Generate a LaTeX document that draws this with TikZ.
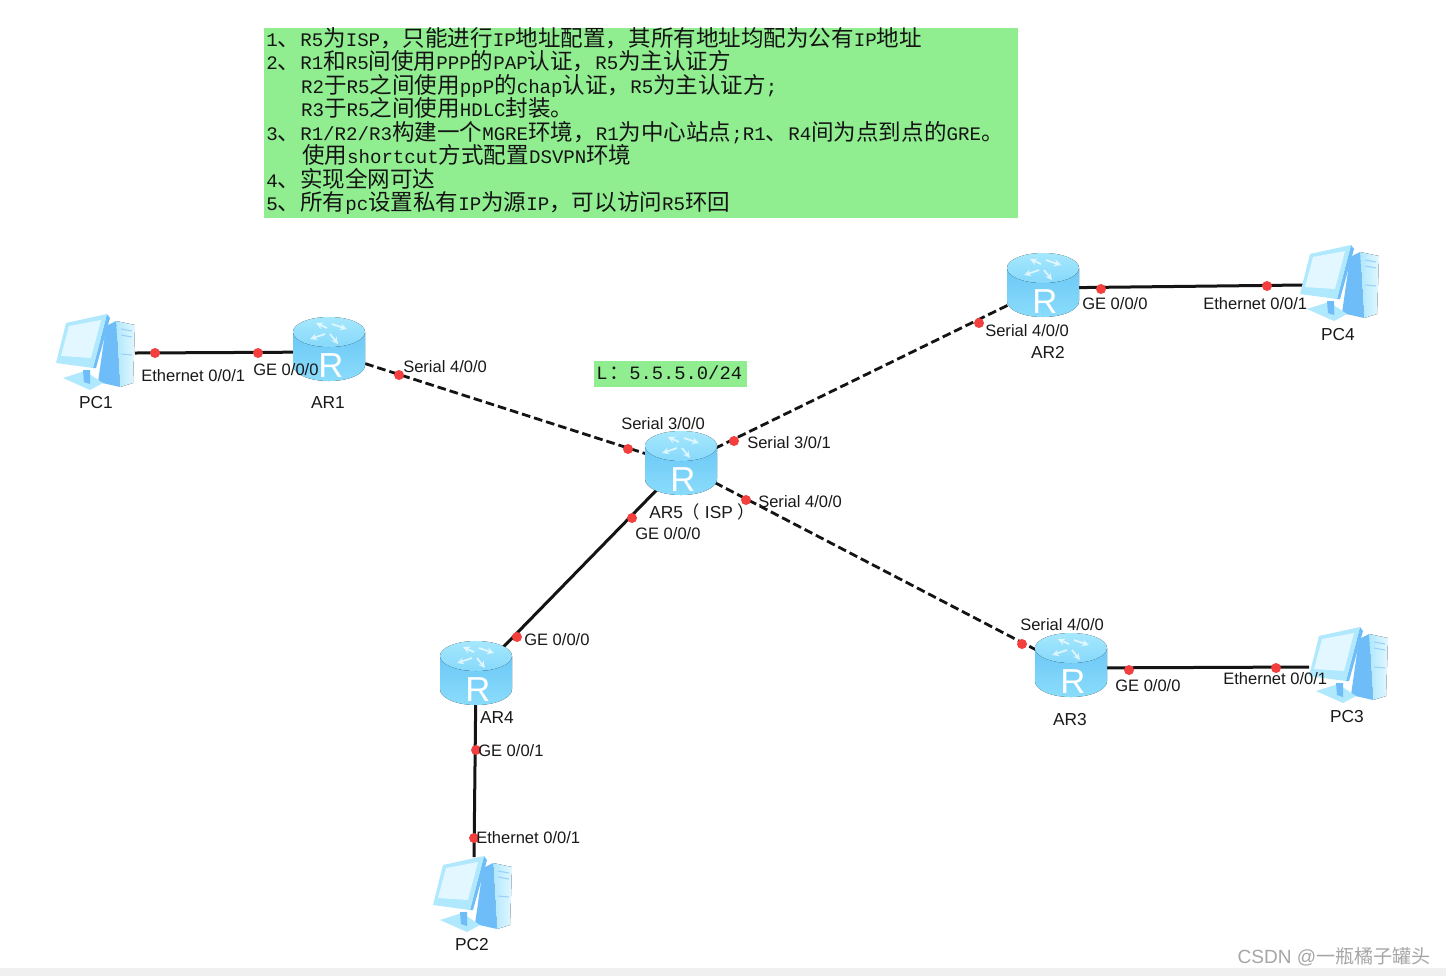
\documentclass[tikz,border=0pt]{standalone}
\usepackage{fontspec}
\setmainfont{Liberation Sans}
\newfontfamily\cjkf{Noto Sans CJK SC}
\newfontfamily\latf{Liberation Mono}
\newcommand\Lt[1]{{\latf\fontsize{14.35pt}{17.6pt}\selectfont #1}}
\definecolor{boxgreen}{HTML}{90EE90}
\definecolor{dotred}{HTML}{F43F3F}
\definecolor{rtop}{HTML}{86D8FB}
\definecolor{rlow}{HTML}{8ADCFB}
\definecolor{rmid}{HTML}{6CC8F6}
\definecolor{rhigh}{HTML}{A6E8FD}
\definecolor{pcdark}{HTML}{6FBDF8}
\definecolor{pcmid}{HTML}{B0E8FD}
\definecolor{pclight}{HTML}{E2F7FF}
\tikzset{
 x=0.75pt,y=-0.75pt,
 anchorbox/.style={inner sep=0pt,outer sep=0pt,minimum width=54pt,minimum height=50pt},
 pcbox/.style={inner sep=0pt,outer sep=0pt,minimum width=60pt,minimum height=57pt},
 solidlink/.style={line width=2.25pt,draw=black!92},
 dashlink/.style={line width=2.1pt,draw=black!92,dash pattern=on 6.5pt off 3pt},
 portdot/.style={circle,fill=dotred,inner sep=0pt,minimum size=7.5pt},
 lab/.style={inner sep=0pt,anchor=west,font=\fontsize{12.4pt}{14pt}\selectfont,text=black!90},
 clab/.style={inner sep=0pt,font=\fontsize{13pt}{14pt}\selectfont,text=black!90},
 router/.pic={
  \fill[bottom color=rlow,top color=rmid] (-36,-18) -- (-36,15) .. controls (-36,24) and (-20,31) .. (0,31) .. controls (20,31) and (36,24) .. (36,15) -- (36,-18) -- cycle;
  \fill[top color=rhigh,bottom color=rtop] (0,-18) ellipse[x radius=36,y radius=15];
  \draw[white,opacity=.7,line width=1.3pt,-stealth] (-2,-22) -- (-13,-27);
  \draw[white,opacity=.7,line width=1.3pt,-stealth] (3,-26) -- (18,-21);
  \draw[white,opacity=.7,line width=1.3pt,-stealth] (-4,-16) -- (-19,-11);
  \draw[white,opacity=.7,line width=1.3pt,-stealth] (1,-16) -- (9,-6);
  \node[inner sep=0pt,text=white,font=\fontsize{26pt}{26pt}\selectfont] at (2,16) {R};
 },
 pcicon/.pic={
  % tower
  \fill[right color=pclight,left color=pcmid] (60,6) -- (79,10) -- (77,68) -- (64,72) -- cycle;
  \fill[pcdark] (50,11) -- (60,6) -- (64,72) -- (42,67) -- cycle;
  \draw[pcdark!70,line width=.8pt] (65,14) -- (76,16) (65,20) -- (76,22) (65,39) -- (76,40);
  % stand
  \fill[pcmid] (7,63) -- (29,56) -- (47,68) -- (34,75) -- cycle;
  \fill[pcdark] (27,55) -- (34,55) -- (34,69) -- (28,67) -- cycle;
  % monitor
  \fill[pcdark] (51,-1) -- (54,3) -- (40,53) -- (37,53) -- cycle;
  \fill[pcmid] (10,8) -- (51,-1) -- (37,53) -- (0,48) -- cycle;
  \fill[pclight] (13,11) -- (45,5) -- (35,43) -- (5,41) -- cycle;
 }
}
\begin{document}
\begin{tikzpicture}
\useasboundingbox (0,0) rectangle (1446,976);
\fill[white] (0,0) rectangle (1446,976);
\fill[black!6] (0,968) rectangle (1446,976);
% instruction box
\node[name=notes,anchor=north west,inner sep=0pt,minimum width=565.5pt,minimum height=142.5pt,fill=boxgreen] at (264,28) {};
\node[name=notestext,anchor=north west,inner sep=0pt,align=left,text=black!92,font=\cjkf\fontsize{16.9pt}{17.65pt}\selectfont] at (266,27) {%
\Lt{1}、\Lt{R5}为\Lt{ISP}，只能进行\Lt{IP}地址配置，其所有地址均配为公有\Lt{IP}地址\\
\Lt{2}、\Lt{R1}和\Lt{R5}间使用\Lt{PPP}的\Lt{PAP}认证，\Lt{R5}为主认证方\\
\hspace*{26.2pt}\Lt{R2}于\Lt{R5}之间使用\Lt{ppP}的\Lt{chap}认证，\Lt{R5}为主认证方\Lt{;}\\
\hspace*{26.2pt}\Lt{R3}于\Lt{R5}之间使用\Lt{HDLC}封装。\\
\Lt{3}、\Lt{R1/R2/R3}构建一个\Lt{MGRE}环境，\Lt{R1}为中心站点\Lt{;R1}、\Lt{R4}间为点到点的\Lt{GRE}。\\
\hspace*{26.8pt}使用\Lt{shortcut}方式配置\Lt{DSVPN}环境\\
\Lt{4}、实现全网可达\\
\Lt{5}、所有\Lt{pc}设置私有\Lt{IP}为源\Lt{IP}，可以访问\Lt{R5}环回};
\node[name=lbox,anchor=north west,inner sep=0pt,minimum width=114.75pt,minimum height=19.5pt,fill=boxgreen] at (594,361) {};
\node[name=ltext,anchor=west,inner sep=0pt,text=black!92,font=\latf\fontsize{14.1pt}{14pt}\selectfont] at (596,373) {L\hspace{1.5pt}{\cjkf\fontsize{14.8pt}{14pt}\selectfont ：}5.5.5.0/24};
% anchors
\node[anchorbox,name=ar1] at (329,352) {};
\node[anchorbox,name=ar5] at (681,465) {};
\node[anchorbox,name=ar2] at (1043,288) {};
\node[anchorbox,name=ar3] at (1071,668) {};
\node[anchorbox,name=ar4] at (476,675) {};
\node[pcbox,name=pc1] at (95,353) {};
\node[pcbox,name=pc2] at (474,895) {};
\node[pcbox,name=pc3] at (1349,667) {};
\node[pcbox,name=pc4] at (1343,285) {};
% connectors
\draw[solidlink] (pc1.east) -- (ar1.center);
\draw[solidlink] (ar4.center) -- (pc2.north);
\draw[solidlink] (ar2.center) -- (pc4.west);
\draw[solidlink] (ar3.center) -- (pc3.west);
\draw[solidlink] (ar5.center) -- (ar4.center);
\draw[dashlink] (ar1.center) -- (ar5.center);
\draw[dashlink] (ar5.center) -- (ar2.center);
\draw[dashlink] (ar5.center) -- (ar3.center);
% icons
\pic at (329,350) {router};
\pic at (681,464) {router};
\pic at (1043,286) {router};
\pic at (1071,666) {router};
\pic at (476,674) {router};
\pic at (56,315) {pcicon};
\pic at (1300,246) {pcicon};
\pic at (1309,628) {pcicon};
\pic at (433,857) {pcicon};
% port dots
\foreach \n/\p in {a/{155,353},b/{258,353},c/{399,375},d/{628,449},e/{734,441},f/{979,323},g/{746,500},h/{1022,644},i/{632,518},j/{517,637},k/{476,750},l/{474,838},m/{1101,289},n/{1267,286},o/{1129,670},q/{1276,668}}
 \node[portdot,name=dot\n] at (\p) {};
% labels
\node[lab,name=l1] at (141,376) {Ethernet 0/0/1};
\node[lab,name=l2] at (253,370) {GE 0/0/0};
\node[lab,name=l3] at (403,367) {Serial 4/0/0};
\node[lab,name=l4] at (621,424) {Serial 3/0/0};
\node[lab,name=l5] at (747,443) {Serial 3/0/1};
\node[lab,name=l6] at (758,502) {Serial 4/0/0};
\node[lab,name=l7] at (635,534) {GE 0/0/0};
\node[lab,name=l8] at (524,640) {GE 0/0/0};
\node[lab,name=l9] at (478,751) {GE 0/0/1};
\node[lab,name=l10] at (476,838) {Ethernet 0/0/1};
\node[lab,name=l11] at (985,331) {Serial 4/0/0};
\node[lab,name=l12] at (1082,304) {GE 0/0/0};
\node[lab,name=l13] at (1203,304) {Ethernet 0/0/1};
\node[lab,name=l14] at (1020,625) {Serial 4/0/0};
\node[lab,name=l15] at (1115,686) {GE 0/0/0};
\node[lab,name=l16] at (1223,679) {Ethernet 0/0/1};
\node[clab,name=n1] at (96,403) {PC1};
\node[clab,name=n2] at (328,403) {AR1};
\node[clab,name=n3] at (472,945) {PC2};
\node[clab,name=n4] at (1338,335) {PC4};
\node[clab,name=n5] at (1347,717) {PC3};
\node[clab,name=n6] at (1048,352) {AR2};
\node[clab,name=n7] at (1070,720) {AR3};
\node[clab,name=n8] at (497,718) {AR4};
\node[clab,name=n9,anchor=west] at (649,512) {AR5{\cjkf（\hspace{3.5pt}}ISP{\cjkf\hspace{3.5pt}）}};
\node[name=wm,anchor=east,inner sep=0pt,text=black!35,font=\fontsize{14.3pt}{16pt}\selectfont] at (1431,957) {CSDN @{\cjkf 一瓶橘子罐头}};
\end{tikzpicture}
\end{document}
